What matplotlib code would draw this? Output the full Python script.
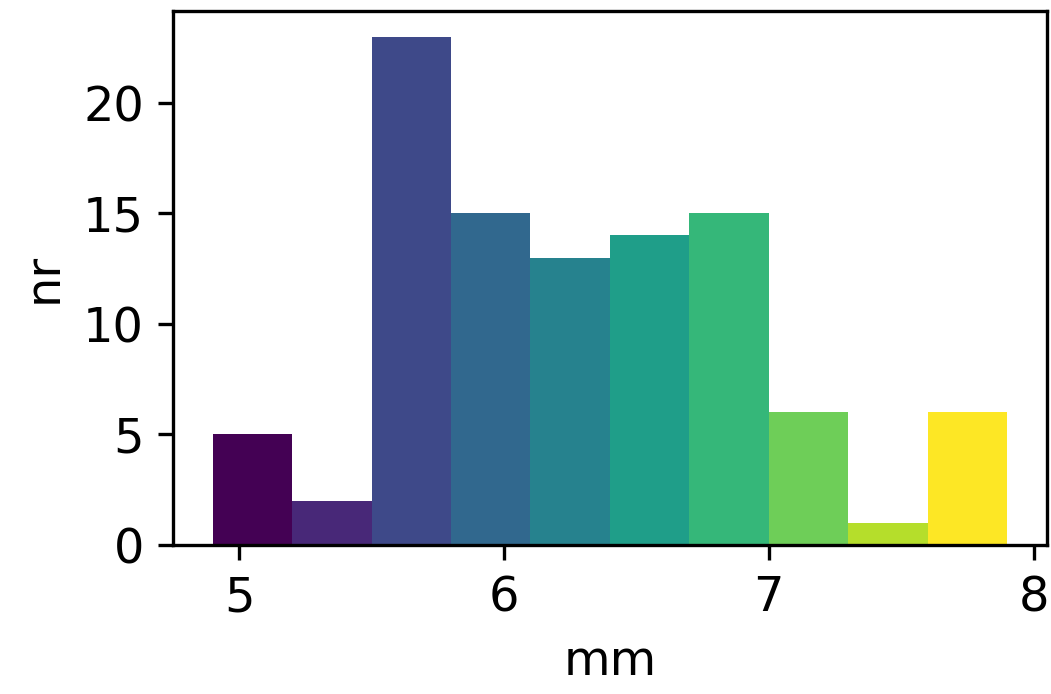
import numpy as np
import matplotlib
matplotlib.use('Agg')
import matplotlib.pyplot as plt

# histogram bins (mm) and counts per bin
bin_edges = [4.9, 5.2, 5.5, 5.8, 6.1, 6.4, 6.7, 7.0, 7.3, 7.6, 7.9]
counts = [5, 2, 23, 15, 13, 14, 15, 6, 1, 6]

plt.rcParams['font.size'] = 11.5

fig = plt.figure(figsize=(1051 / 300, 694 / 300), dpi=300)
ax = fig.add_axes([0.1646, 0.2147, 0.8314, 0.7693])

lefts = np.array(bin_edges[:-1])
widths = np.diff(bin_edges)
colors = plt.cm.viridis(np.linspace(0, 1, len(counts)))
ax.bar(lefts, counts, width=widths, align='edge', color=colors)

ax.set_xticks([5, 6, 7, 8])
ax.set_yticks([0, 5, 10, 15, 20])
ax.set_xlabel('mm')
ax.set_ylabel('nr')

fig.savefig('out.png', dpi=300)
